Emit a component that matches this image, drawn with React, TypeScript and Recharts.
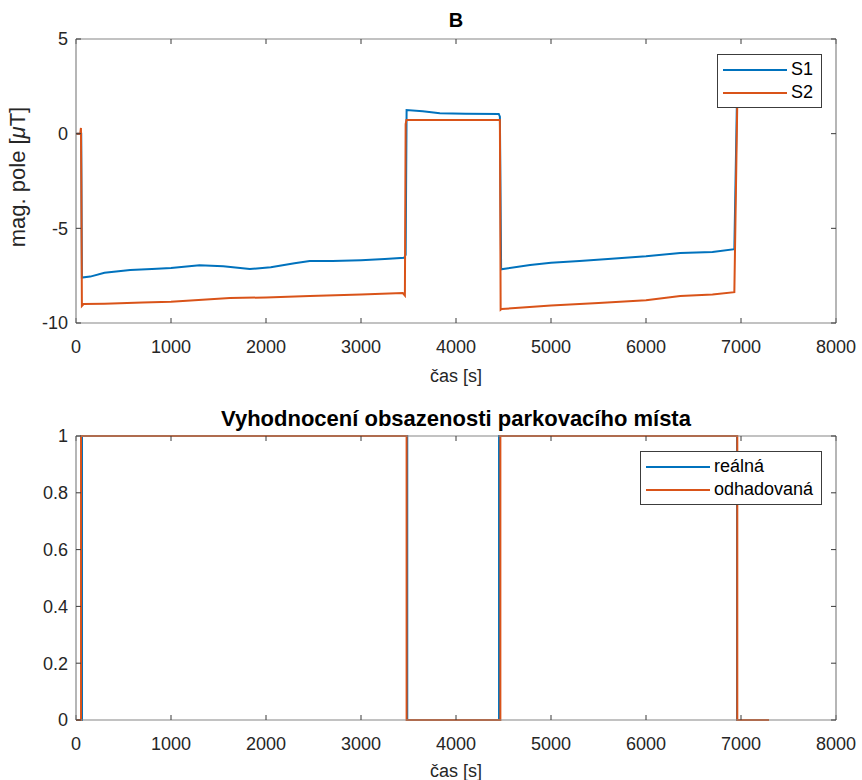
import React from 'react';
import { LineChart, Line, XAxis, YAxis, Legend } from 'recharts';

const FONT = '"Liberation Sans", Arial, Helvetica, sans-serif';
const BLUE = '#0072BD';
const ORANGE = '#D95319';
const TEXT = '#262626';

// shared time axis
const timeTicks = [0, 1000, 2000, 3000, 4000, 5000, 6000, 7000, 8000];

// top panel: magnetic field B
const fieldTicks = [-10, -5, 0, 5];
const fieldNames = ['S1', 'S2'];
const s1Time = [0, 55, 62, 150, 300, 570, 800, 1000, 1300, 1550, 1830, 2050, 2300, 2460, 2700, 3000, 3250, 3455, 3470, 3480, 3650, 3830, 4100, 4450, 4462, 4475, 4780, 5000, 5300, 5600, 6000, 6360, 6700, 6930, 6958];
const s1Field = [0, 0, -7.6, -7.55, -7.35, -7.2, -7.15, -7.1, -6.95, -7.0, -7.15, -7.05, -6.85, -6.73, -6.72, -6.68, -6.62, -6.55, -6.4, 1.25, 1.18, 1.08, 1.05, 1.04, 0.9, -7.16, -6.94, -6.82, -6.72, -6.62, -6.48, -6.3, -6.25, -6.1, 2];
const s2Time = [0, 45, 52, 56, 62, 80, 300, 700, 1000, 1620, 2000, 2460, 3000, 3440, 3462, 3470, 3478, 3800, 4200, 4462, 4470, 4480, 4700, 5000, 5500, 6000, 6360, 6700, 6930, 6962];
const s2Field = [0, 0, 0.3, -2.5, -9.1, -9.0, -8.98, -8.92, -8.88, -8.68, -8.65, -8.57, -8.5, -8.42, -8.55, 0.5, 0.72, 0.72, 0.72, 0.72, -9.3, -9.26, -9.18, -9.08, -8.95, -8.8, -8.58, -8.5, -8.37, 2];

// bottom panel: occupancy evaluation
const occTicks = [0, 0.2, 0.4, 0.6, 0.8, 1];
const occNames = ['reálná', 'odhadovaná'];
const realTime = [0, 63, 63, 3487, 3487, 4453, 4453, 6958, 6958, 7290];
const realState = [0, 0, 1, 1, 0, 0, 1, 1, 0, 0];
const estTime = [0, 53, 53, 3480, 3480, 4467, 4467, 6961, 6961, 7295];
const estState = [0, 0, 1, 1, 0, 0, 1, 1, 0, 0];

const zip = (t: number[], v: number[]) => t.map((x, i) => ({ t: x, v: v[i] }));

const s1Data = zip(s1Time, s1Field);
const s2Data = zip(s2Time, s2Field);
const realData = zip(realTime, realState);
const estData = zip(estTime, estState);

const tickStyle = { fill: TEXT, fontSize: 18, fontFamily: FONT };
const boxLine = { stroke: '#858585', strokeWidth: 1.2 };
const tickLine = { stroke: '#3a3a3a' };
const blank = () => '';

function LegendBox({ names, colors }: { names: string[]; colors: string[] }) {
  return (
    <div
      style={{
        background: '#fff',
        border: '1px solid #3c3c3c',
        padding: '3px 8px 3px 5px',
        fontFamily: FONT,
        fontSize: 18,
        color: '#000',
      }}
    >
      {names.map((n, i) => (
        <div key={n} style={{ display: 'flex', alignItems: 'center', height: 23, whiteSpace: 'nowrap' }}>
          <span style={{ display: 'inline-block', width: 64, height: 2, background: colors[i], marginRight: 4 }} />
          <span>{n}</span>
        </div>
      ))}
    </div>
  );
}

function Caption({ x, y, bold, rotate, size = 18, children }: any) {
  return (
    <div
      style={{
        position: 'absolute',
        left: x,
        top: y,
        transform: `translate(-50%, -50%)${rotate ? ' rotate(-90deg)' : ''}`,
        fontFamily: FONT,
        fontSize: size,
        fontWeight: bold ? 'bold' : 'normal',
        color: bold ? '#000' : TEXT,
        whiteSpace: 'nowrap',
      }}
    >
      {children}
    </div>
  );
}

export default function App() {
  return (
    <div style={{ position: 'absolute', left: 0, top: 0, width: 862, height: 780, background: '#fff' }}>
      <div style={{ position: 'absolute', left: 0, top: 0 }}>
        <LineChart width={862} height={400} margin={{ top: 38, right: 25, bottom: 0, left: 0 }}>
          <XAxis
            dataKey="t"
            type="number"
            domain={[0, 8000]}
            ticks={timeTicks}
            interval={0}
            height={77}
            tickSize={-5}
            tickMargin={22}
            axisLine={boxLine}
            tickLine={tickLine}
            tick={tickStyle}
          />
          {/* top and right axes close the box, inward ticks only */}
          <XAxis xAxisId="top" orientation="top" dataKey="t" type="number" domain={[0, 8000]} ticks={timeTicks} interval={0} height={1} tickSize={-5} tickFormatter={blank} axisLine={boxLine} tickLine={tickLine} />
          <YAxis
            type="number"
            domain={[-10, 5]}
            ticks={fieldTicks}
            interval={0}
            width={76}
            tickSize={-5}
            tickMargin={13}
            axisLine={boxLine}
            tickLine={tickLine}
            tick={tickStyle}
          />
          <YAxis yAxisId="right" orientation="right" type="number" domain={[-10, 5]} ticks={fieldTicks} interval={0} width={1} tickSize={-5} tickFormatter={blank} axisLine={boxLine} tickLine={tickLine} />
          <Line data={s1Data} dataKey="v" name={fieldNames[0]} type="linear" stroke={BLUE} strokeWidth={2} dot={false} isAnimationActive={false} />
          <Line data={s2Data} dataKey="v" name={fieldNames[1]} xAxisId="top" yAxisId="right" type="linear" stroke={ORANGE} strokeWidth={2} dot={false} isAnimationActive={false} />
          <Legend
            layout="vertical"
            align="center"
            verticalAlign="middle"
            wrapperStyle={{ left: 717, top: 54, width: 'auto', height: 'auto' }}
            content={() => <LegendBox names={fieldNames} colors={[BLUE, ORANGE]} />}
          />
        </LineChart>
        <Caption x={456} y={20} bold size={20}>B</Caption>
        <Caption x={456} y={376}>čas [s]</Caption>
        <Caption x={18} y={177} rotate size={22}>
          mag. pole [<span style={{ fontStyle: 'italic' }}>μ</span>T]
        </Caption>
      </div>

      <div style={{ position: 'absolute', left: 0, top: 400 }}>
        <LineChart width={862} height={380} margin={{ top: 35, right: 25, bottom: 0, left: 0 }}>
          <XAxis
            dataKey="t"
            type="number"
            domain={[0, 8000]}
            ticks={timeTicks}
            interval={0}
            height={60}
            tickSize={-5}
            tickMargin={22}
            axisLine={boxLine}
            tickLine={tickLine}
            tick={tickStyle}
          />
          <XAxis xAxisId="top" orientation="top" dataKey="t" type="number" domain={[0, 8000]} ticks={timeTicks} interval={0} height={1} tickSize={-5} tickFormatter={blank} axisLine={boxLine} tickLine={tickLine} />
          <YAxis
            type="number"
            domain={[0, 1]}
            ticks={occTicks}
            interval={0}
            width={76}
            tickSize={-5}
            tickMargin={13}
            axisLine={boxLine}
            tickLine={tickLine}
            tick={tickStyle}
          />
          <YAxis yAxisId="right" orientation="right" type="number" domain={[0, 1]} ticks={occTicks} interval={0} width={1} tickSize={-5} tickFormatter={blank} axisLine={boxLine} tickLine={tickLine} />
          <Line data={realData} dataKey="v" name={occNames[0]} type="linear" stroke={BLUE} strokeWidth={2} dot={false} isAnimationActive={false} />
          <Line data={estData} dataKey="v" name={occNames[1]} xAxisId="top" yAxisId="right" type="linear" stroke={ORANGE} strokeWidth={2} dot={false} isAnimationActive={false} />
          <Legend
            layout="vertical"
            align="center"
            verticalAlign="middle"
            wrapperStyle={{ left: 640, top: 51, width: 'auto', height: 'auto' }}
            content={() => <LegendBox names={occNames} colors={[BLUE, ORANGE]} />}
          />
        </LineChart>
        <Caption x={456} y={19} bold size={22}>Vyhodnocení obsazenosti parkovacího místa</Caption>
        <Caption x={456} y={371}>čas [s]</Caption>
      </div>
    </div>
  );
}
